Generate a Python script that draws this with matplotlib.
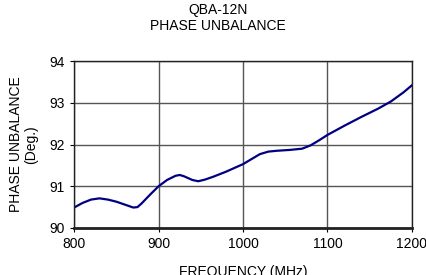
import matplotlib
matplotlib.use("Agg")
import matplotlib.pyplot as plt

plt.rcParams['font.family'] = ['Liberation Sans', 'DejaVu Sans']

# data
freq = [800, 810, 820, 830, 840, 850, 860, 870, 875, 880, 890, 900, 910, 920, 925,
        930, 940, 947, 955, 965, 980, 1000, 1010, 1020, 1030, 1040, 1055, 1070,
        1080, 1090, 1100, 1120, 1140, 1160, 1175, 1190, 1200]
phase = [90.49, 90.6, 90.68, 90.71, 90.68, 90.63, 90.56, 90.49, 90.5, 90.59, 90.8, 91.0,
         91.15, 91.25, 91.27, 91.24, 91.15, 91.12, 91.16, 91.23, 91.35, 91.53, 91.65,
         91.77, 91.83, 91.85, 91.87, 91.9, 91.98, 92.1, 92.23, 92.45, 92.66, 92.86,
         93.03, 93.25, 93.42]
xticks = [800, 900, 1000, 1100, 1200]
yticks = [90, 91, 92, 93, 94]

fig = plt.figure(figsize=(4.26, 2.75), dpi=100)
ax = fig.add_axes([0.174, 0.171, 0.793, 0.607])
ax.plot(freq, phase, color='#000080', lw=1.6)
ax.set_xlim(800, 1200)
ax.set_ylim(90, 94)
ax.set_xticks(xticks)
ax.set_yticks(yticks)
ax.grid(True, color='#555555', lw=1)
ax.tick_params(labelsize=10, length=3, color='black')
for s in ax.spines.values():
    s.set_color('#222222')
    s.set_linewidth(1)
ax.spines['bottom'].set_linewidth(2)

# title, two lines
fig.text(0.511, 0.962, 'QBA-12N', ha='center', va='center', fontsize=10)
fig.text(0.511, 0.907, 'PHASE UNBALANCE', ha='center', va='center', fontsize=10)
ax.set_xlabel('FREQUENCY (MHz)', fontsize=10, labelpad=10)
ax.set_ylabel('PHASE UNBALANCE\n(Deg.)', fontsize=10, labelpad=8, linespacing=1.1)

fig.savefig('out.png', dpi=100)
